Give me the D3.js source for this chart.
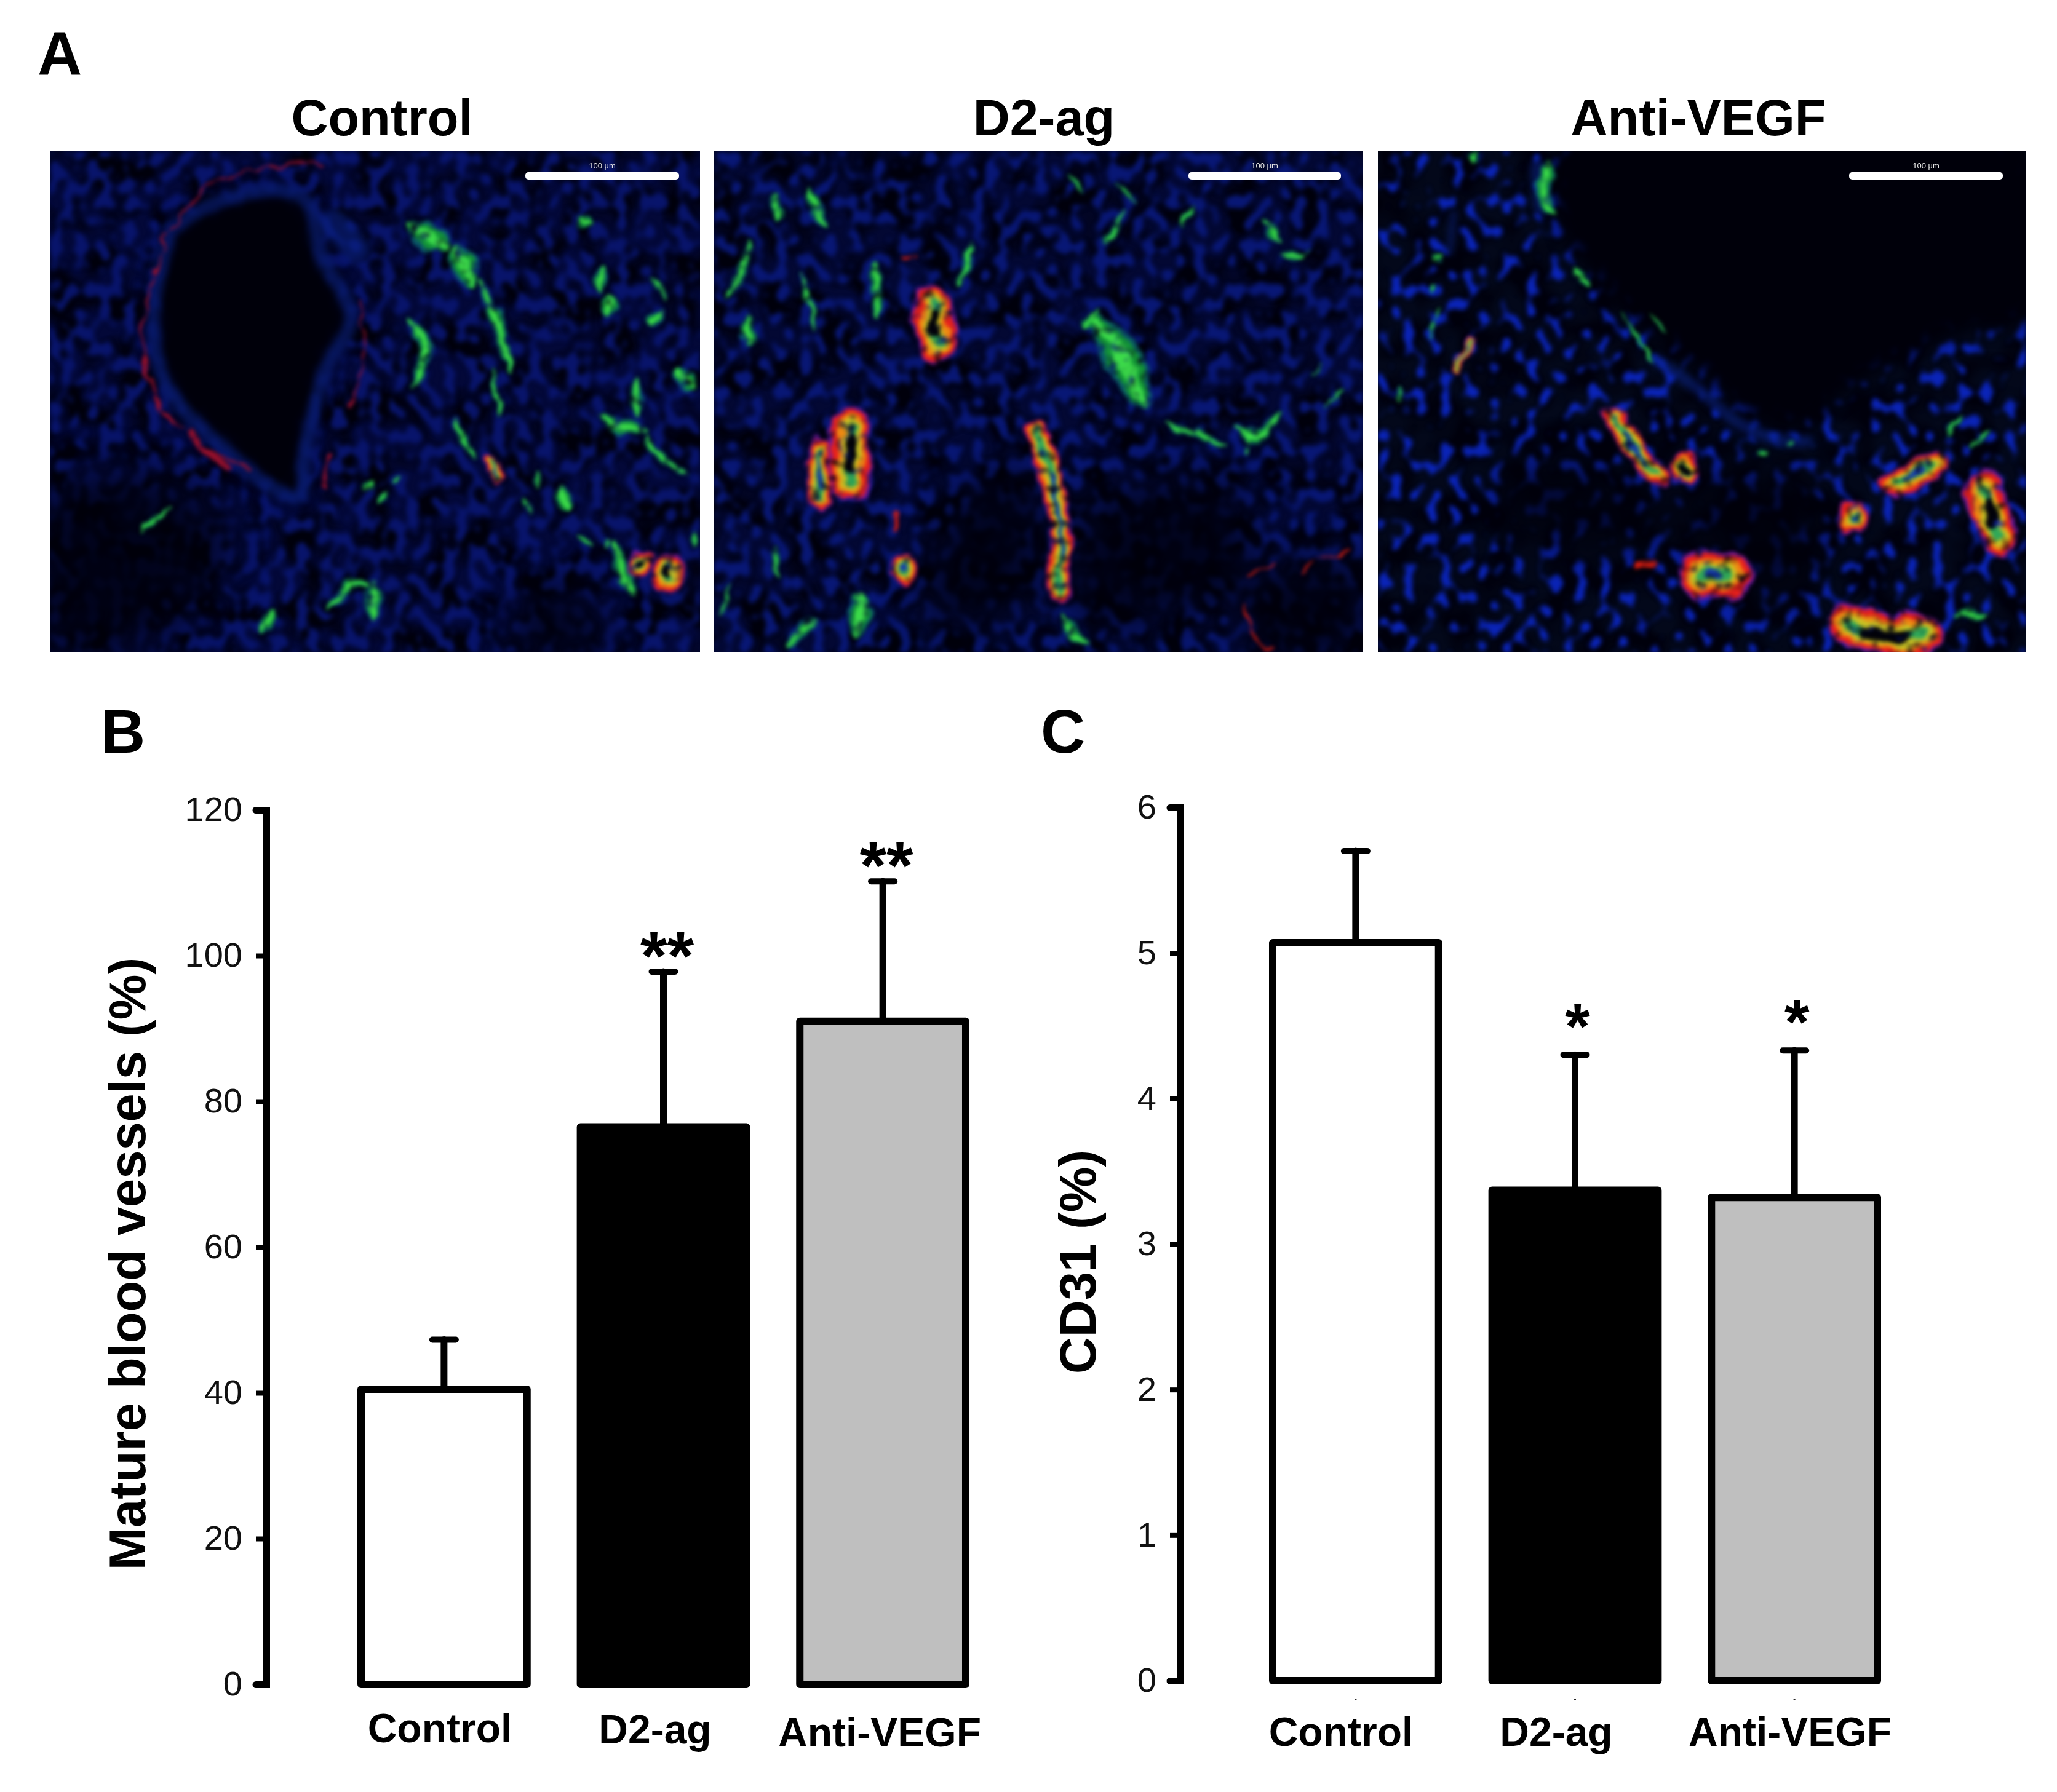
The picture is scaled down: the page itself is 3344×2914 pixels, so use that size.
<!DOCTYPE html>
<html lang="en">
<head>
<meta charset="UTF-8">
<title>Mature blood vessels and CD31</title>
<script src="https://d3js.org/d3.v7.min.js"></script>
<style>
  body { margin: 0; background: #fff; }
  text { font-family: "Liberation Sans", Arial, sans-serif; fill: #000; }
  filter { color-interpolation-filters: sRGB; }
</style>
</head>
<body>
<div id="fig"></div>
<script>
// chart values
var categories = ["Control", "D2-ag", "Anti-VEGF"];
var matureValues = [40.5, 76.5, 91];
var matureErrorTops = [47.3, 97.8, 110.2];
var matureStars = ["", "**", "**"];
var matureTicks = [0, 20, 40, 60, 80, 100, 120];
var cd31Values = [5.07, 3.37, 3.32];
var cd31ErrorTops = [5.7, 4.3, 4.33];
var cd31Stars = ["", "*", "*"];
var cd31Ticks = [0, 1, 2, 3, 4, 5, 6];
var barFills = ["#fff", "#000", "#bfbfbf"];

// micrograph features, traced in field units of each panel: [points, width]
var green1 = [
  [[[850,225],[900,270],[940,310]],52], [[[950,305],[985,360],[1000,420]],46], [[[1015,400],[1060,530],[1088,700]],22],
  [[[1052,670],[1062,825]],13], [[[855,525],[890,600],[890,650],[868,730]],22], [[[962,835],[1003,955]],16],
  [[[1305,350],[1300,445]],26], [[[1318,455],[1318,520]],30], [[[1415,395],[1455,462]],13], [[[1445,495],[1410,555]],26],
  [[[1385,715],[1385,835]],24], [[[1295,810],[1340,855],[1405,865]],28], [[[1405,880],[1440,950],[1508,1000]],16],
  [[[1208,1045],[1218,1110]],22], [[[1148,985],[1155,1045]],11], [[[1122,1070],[1132,1125]],11], [[[772,1022],[742,1048]],18],
  [[[800,1040],[785,1095]],16], [[[835,1010],[810,1028]],11], [[[668,1430],[710,1350],[775,1330]],24], [[[770,1335],[772,1455]],30],
  [[[545,1425],[508,1490]],18], [[[228,1185],[295,1105]],13], [[[1335,1210],[1350,1310],[1382,1385]],34],
  [[[1248,1188],[1278,1218]],11], [[[1305,1230],[1322,1205]],13], [[[1522,1175],[1520,1230]],12], [[[1245,208],[1275,245]],24],
  [[[1478,685],[1520,740]],38]
];
var green2 = [
  [[[895,510],[950,600],[1000,720],[1025,795]],56], [[[1075,850],[1150,880],[1222,918]],14], [[[1235,845],[1285,890],[1355,810]],28],
  [[[1270,880],[1270,938]],13], [[[608,285],[610,340],[585,415]],20], [[[385,340],[385,420],[385,525]],24], [[[212,385],[225,480],[248,555]],11],
  [[[215,120],[250,200],[268,245]],24], [[[150,140],[150,225]],18], [[[978,190],[950,250],[928,298]],14], [[[962,108],[1005,165]],11],
  [[[838,88],[878,138]],9], [[[1118,240],[1142,175]],14], [[[1305,230],[1355,285]],20], [[[1345,335],[1415,318]],12],
  [[[88,280],[60,400],[25,460]],16], [[[80,510],[80,620]],32], [[[350,1370],[338,1505]],38], [[[248,1445],[165,1530]],28],
  [[[36,1335],[12,1450]],9], [[[825,1435],[890,1530]],20], [[[1418,688],[1448,662]],6], [[[1492,745],[1458,795]],6],
  [[[145,1225],[152,1325]],11], [[[912,500],[882,565]],18]
];
var green3 = [
  [[[408,30],[395,130],[415,210]],30], [[[232,12],[225,42]],20], [[[150,330],[128,352]],18], [[[462,375],[508,420]],16],
  [[[128,422],[138,445]],8], [[[148,480],[118,585]],7], [[[578,505],[620,590],[652,672]],6], [[[638,505],[682,568]],4],
  [[[50,735],[50,775]],8], [[[1385,825],[1358,885]],9], [[[1455,865],[1415,925]],14], [[[1370,1438],[1435,1428]],20],
  [[[905,945],[925,925]],14], [[[968,915],[992,905]],9]
];
// vessels: [points, width, lumen]
var vessels1 = [
  [[[1395,1270],[1395,1290]],32,1], [[[1458,1285],[1458,1320]],44,1], [[[1045,960],[1060,1010]],20,0]
];
var vessels2 = [
  [[[520,480],[530,595]],58,1], [[[325,855],[325,1025]],58,1], [[[250,925],[250,1075]],36,0],
  [[[770,875],[800,1020],[825,1150],[820,1365]],34,0], [[[450,1275],[450,1305]],30,0]
];
var vessels3 = [
  [[[560,830],[610,920],[640,980],[670,1000]],32,0], [[[730,975],[730,995]],36,1], [[[1230,1030],[1320,975]],42,0],
  [[[1130,1130],[1130,1145]],42,0], [[[1440,1050],[1455,1120],[1475,1190]],56,1], [[[770,1310],[830,1310]],72,0],
  [[[1120,1465],[1210,1500],[1290,1490]],62,1], [[[225,590],[185,680]],15,0]
];
var redStreaks1 = [
  [[[240,640],[240,500],[300,250],[400,110],[520,65],[650,45]],3], [[[240,640],[270,780],[330,870],[420,950],[480,990]],5],
  [[[340,870],[430,990]],11], [[[740,470],[750,620],[720,800]],3], [[[670,950],[650,1040]],6]
];
var redStreaks2 = [
  [[[435,1130],[430,1170]],7], [[[1400,1310],[1440,1260],[1510,1240]],4], [[[1270,1310],[1330,1285]],3],
  [[[1265,1410],[1290,1500],[1330,1540]],3], [[[450,345],[480,335]],5]
];
var redStreaks3 = [
  [[[615,1282],[655,1278]],13]
];
var lumens1 = [
  [[300,250],[400,170],[560,130],[620,170],[650,330],[720,520],[660,680],[610,950],[600,1070],[520,1030],[430,930],[340,820],[280,700],[260,500]]
];
var shades1 = [
  [[20,1060],[200,1000],[420,1140],[380,1380],[200,1540],[20,1540]], [[1150,1350],[1300,1400],[1300,1540],[1100,1540]]
];
var lumens2 = [];
var shades2 = [
  [[1250,1340],[1540,1280],[1540,1550],[1300,1550]], [[600,1050],[760,1000],[740,1400],[500,1450]], [[880,1100],[1240,1050],[1240,1350],[880,1450]]
];
var lumens3 = [
  [[430,10],[1540,10],[1540,530],[1400,560],[1100,760],[1000,860],[860,800],[760,680],[640,560],[520,410],[430,220]]
];
var shades3 = [
  [[300,1000],[560,1000],[700,1180],[520,1230],[300,1150]], [[720,1050],[1040,1030],[1020,1350],[880,1400]]
];
var rims1 = [
  [[[300,250],[400,170],[560,130],[620,170],[650,330],[720,520],[660,680],[610,950],[600,1070],[520,1030],[430,930],[340,820],[280,700],[260,500],[300,250]],22],
  [[[680,230],[730,310]],44]
];
var rims2 = [];
var rims3 = [
  [[[660,650],[760,740],[850,840],[960,900],[1020,900]],18], [[[380,60],[390,180]],26], [[[180,200],[170,320]],9]
];

var panels = [
  { title: "Control", titleX: 621, left: 81, right: 1138, domX: [18, 1532], seed: 3, blue: [0.03, 0.08, 0.42], cut: 3.9, haze: 0.22, green: green1, vessels: vessels1, reds: redStreaks1, lumens: lumens1, shades: shades1, rims: rims1, barX: [854, 1104] },
  { title: "D2-ag", titleX: 1697, left: 1161, right: 2216, domX: [0, 1545], seed: 8, blue: [0.03, 0.09, 0.46], cut: 4.0, haze: 0.2, green: green2, vessels: vessels2, reds: redStreaks2, lumens: lumens2, shades: shades2, rims: rims2, barX: [1932, 2180] },
  { title: "Anti-VEGF", titleX: 2761, left: 2240, right: 3294, domX: [0, 1540], seed: 14, blue: [0.04, 0.14, 0.72], cut: 4.35, haze: 0.1, green: green3, vessels: vessels3, reds: redStreaks3, lumens: lumens3, shades: shades3, rims: rims3, barX: [3006, 3256] }
];

var fieldTop = 246, fieldBottom = 1061;

var svg = d3.select("#fig").append("svg")
  .attr("width", 3344).attr("height", 2914)
  .style("display", "block");
var defs = svg.append("defs");

// rough, mottled, soft edge used on the stained marks
var soft = defs.append("filter").attr("id", "soft")
  .attr("filterUnits", "userSpaceOnUse").attr("x", -20).attr("y", -20).attr("width", 1100).attr("height", 860);
soft.append("feTurbulence").attr("type", "fractalNoise").attr("baseFrequency", 0.03).attr("numOctaves", 2).attr("seed", 5).attr("result", "n");
soft.append("feDisplacementMap").attr("in", "SourceGraphic").attr("in2", "n").attr("scale", 24)
  .attr("xChannelSelector", "R").attr("yChannelSelector", "G").attr("result", "d");
soft.append("feTurbulence").attr("type", "fractalNoise").attr("baseFrequency", 0.07).attr("numOctaves", 2).attr("seed", 11);
soft.append("feColorMatrix").attr("values", "0 0 0 0 1 0 0 0 0 1 0 0 0 0 1 3 0 0 0 -0.55").attr("result", "m");
soft.append("feComposite").attr("in", "d").attr("in2", "m").attr("operator", "in");
soft.append("feGaussianBlur").attr("stdDeviation", 3.2);

function blurFilter(id, dev) {
  defs.append("filter").attr("id", id)
    .attr("filterUnits", "userSpaceOnUse").attr("x", -60).attr("y", -60).attr("width", 1180).attr("height", 940)
    .append("feGaussianBlur").attr("stdDeviation", dev);
}
blurFilter("blur6", 6);
blurFilter("blur14", 14);
blurFilter("blur35", 35);

// leaf shaped outline along a polyline, thickest mid-way
function leaf(pts, w, fx, fy) {
  var xy = pts.map(function (d) { return [fx(d[0]), fy(d[1])]; });
  var upper = [], lower = [];
  xy.forEach(function (p, i) {
    var a = xy[Math.max(i - 1, 0)], b = xy[Math.min(i + 1, xy.length - 1)];
    var dx = b[0] - a[0], dy = b[1] - a[1], n = Math.hypot(dx, dy) || 1;
    var half = w / 2 * (xy.length > 2 && i > 0 && i < xy.length - 1 ? 1 : 0.12);
    upper.push([p[0] - dy / n * half, p[1] + dx / n * half]);
    lower.unshift([p[0] + dy / n * half, p[1] - dx / n * half]);
    if (i < xy.length - 1 && xy.length === 2) {
      var mx = (p[0] + xy[i + 1][0]) / 2, my = (p[1] + xy[i + 1][1]) / 2;
      upper.push([mx - dy / n * w / 2, my + dx / n * w / 2]);
      lower.unshift([mx + dy / n * w / 2, my - dx / n * w / 2]);
    }
  });
  return d3.line().curve(d3.curveCatmullRomClosed)(upper.concat(lower));
}

panels.forEach(function (p, i) {
  var w = p.right - p.left, h = fieldBottom - fieldTop;
  var fx = d3.scaleLinear().domain(p.domX).range([0, w]);
  var fy = d3.scaleLinear().domain([10, 1550]).range([0, h]);
  var path = d3.line().x(function (d) { return fx(d[0]); }).y(function (d) { return fy(d[1]); }).curve(d3.curveCatmullRom);
  var poly = d3.line().x(function (d) { return fx(d[0]); }).y(function (d) { return fy(d[1]); }).curve(d3.curveCatmullRomClosed);

  defs.append("clipPath").attr("id", "clip" + i).append("rect").attr("width", w).attr("height", h);

  // cell nuclei texture over a dim blue haze
  var nuc = defs.append("filter").attr("id", "nuclei" + i)
    .attr("x", 0).attr("y", 0).attr("width", "100%").attr("height", "100%");
  nuc.append("feTurbulence").attr("type", "fractalNoise").attr("baseFrequency", "0.05 0.042").attr("numOctaves", 1).attr("seed", p.seed);
  nuc.append("feColorMatrix").attr("values",
    "0 0 0 0 " + p.blue[0] + " 0 0 0 0 " + p.blue[1] + " 0 0 0 0 " + p.blue[2] + " 8 0 0 0 -" + p.cut);
  nuc.append("feGaussianBlur").attr("stdDeviation", 3.5);

  var hz = defs.append("filter").attr("id", "haze" + i)
    .attr("x", 0).attr("y", 0).attr("width", "100%").attr("height", "100%");
  hz.append("feTurbulence").attr("type", "fractalNoise").attr("baseFrequency", 0.018).attr("numOctaves", 2).attr("seed", p.seed + 20);
  hz.append("feColorMatrix").attr("values",
    "0 0 0 0 0.01 0 0 0 0 0.03 0 0 0 0 " + p.haze + " 3 0 0 0 -0.9");

  var g = svg.append("g").attr("transform", "translate(" + p.left + "," + fieldTop + ")");
  var f = g.append("g").attr("clip-path", "url(#clip" + i + ")");
  f.append("rect").attr("width", w).attr("height", h).attr("fill", "#00000c");
  f.append("rect").attr("width", w).attr("height", h).attr("filter", "url(#haze" + i + ")");
  f.append("rect").attr("width", w).attr("height", h).attr("filter", "url(#nuclei" + i + ")");

  f.append("g").attr("filter", "url(#blur35)").attr("opacity", 0.8)
    .selectAll("path").data(p.shades).enter().append("path")
    .attr("d", poly).attr("fill", "#00000a");
  f.append("g").attr("filter", "url(#blur14)")
    .selectAll("path").data(p.lumens).enter().append("path")
    .attr("d", poly).attr("fill", "#00000a");

  f.append("g").attr("filter", "url(#blur6)")
    .attr("fill", "none").attr("stroke", "#0b2488").attr("stroke-linecap", "round").attr("opacity", 0.55)
    .selectAll("path").data(p.rims).enter().append("path")
    .attr("d", function (d) { return path(d[0]); })
    .attr("stroke-width", function (d) { return d[1]; });

  var marks = f.append("g").attr("filter", "url(#soft)")
    .attr("fill", "none").attr("stroke-linecap", "round").attr("stroke-linejoin", "round");

  marks.selectAll("path.red").data(p.reds).enter().append("path").attr("class", "red")
    .attr("d", function (d) { return path(d[0]); })
    .attr("stroke", i === 0 ? "#96102c" : "#d81c10").attr("stroke-width", function (d) { return d[1]; });

  // green cells: teal halo, green body, bright core
  [[1.0, "#0d6f74", 0.8], [0.72, "#149a34", 0.95], [0.34, "#3fe24c", 0.95]].forEach(function (layer) {
    marks.append("g").selectAll("path").data(p.green).enter().append("path")
      .attr("d", function (d) { return leaf(d[0], d[1] * layer[0], fx, fy); })
      .attr("fill", layer[1]).attr("opacity", layer[2]);
  });

  // vessels: purple halo, red wall, orange and yellow inner wall, green lining, lumen
  [[1.14, "#6a18a0"], [1, "#e8201c"], [0.74, "#ee8a12"], [0.5, "#c8c424"], [0.28, "#30a858"]].forEach(function (layer) {
    marks.append("g").selectAll("path").data(p.vessels).enter().append("path")
      .attr("d", function (d) { return path(d[0]); })
      .attr("stroke", layer[1])
      .attr("stroke-width", function (d) { return d[1] * layer[0]; });
  });
  // the lumen only shows along the middle of each vessel
  marks.append("g").selectAll("path").data(p.vessels).enter().append("path")
    .attr("d", function (d) { return path(d[0]); })
    .attr("pathLength", 1).attr("stroke-dasharray", "0.5 0.5").attr("stroke-dashoffset", -0.25)
    .attr("stroke", function (d) { return d[2] ? "#020208" : "#1a3ea8"; })
    .attr("stroke-width", function (d) { return d[1] * (d[2] ? 0.3 : 0.16); });

  // scale bar and its tiny label
  g.append("rect")
    .attr("x", p.barX[0] - p.left).attr("y", 34)
    .attr("width", p.barX[1] - p.barX[0]).attr("height", 12).attr("rx", 5)
    .attr("fill", "#fff");
  g.append("text")
    .attr("x", (p.barX[0] + p.barX[1]) / 2 - p.left).attr("y", 28)
    .attr("text-anchor", "middle").attr("font-size", 13)
    .style("fill", "#e8e8e8").text("100 µm");

  svg.append("text").attr("x", p.titleX).attr("y", 220)
    .attr("text-anchor", "middle").attr("font-size", 83).attr("font-weight", 700).text(p.title);
});

function letter(t, x, y) {
  svg.append("text").attr("x", x).attr("y", y).attr("font-size", 100).attr("font-weight", 700).text(t);
}
letter("A", 61, 122);
letter("B", 164, 1224);
letter("C", 1692, 1224);

function drawBars(o) {
  var x = d3.scaleBand().domain(categories).range(o.bandX).paddingInner(0.21);
  var y = d3.scaleLinear().domain(o.domain).range(o.rangeY);
  var g = svg.append("g");

  var axis = g.append("g")
    .attr("transform", "translate(" + o.axisX + ",0)")
    .call(d3.axisLeft(y).tickValues(o.ticks).tickFormat(d3.format("d")).tickSizeOuter(0).tickSize(17).tickPadding(22));
  axis.select(".domain").attr("stroke", "#000").attr("stroke-width", 11).attr("stroke-linecap", "round");
  axis.selectAll(".tick line").attr("stroke", "#000").attr("stroke-width", 8);
  axis.selectAll(".tick text").attr("font-size", 56).attr("font-family", "Liberation Sans").style("fill", "#111");

  g.append("text")
    .attr("transform", "translate(" + o.titleX + "," + o.titleY + ") rotate(-90)")
    .attr("text-anchor", "middle").attr("font-size", 83).attr("font-weight", 700).text(o.title);

  var rows = categories.map(function (c, i) {
    return { cat: c, value: o.values[i], top: o.tops[i], star: o.stars[i], fill: barFills[i], labelX: o.labelX[i], labelY: o.labelY[i] };
  });

  // error bars go first so the bar outline covers their foot
  var err = g.selectAll("g.err").data(rows).enter().append("g").attr("class", "err")
    .attr("stroke", "#000").attr("stroke-linecap", "round");
  err.append("line")
    .attr("x1", function (d) { return x(d.cat) + x.bandwidth() / 2; })
    .attr("x2", function (d) { return x(d.cat) + x.bandwidth() / 2; })
    .attr("y1", function (d) { return y(d.top); })
    .attr("y2", function (d) { return y(d.value); })
    .attr("stroke-width", 11);
  err.append("line")
    .attr("x1", function (d) { return x(d.cat) + x.bandwidth() / 2 - 19; })
    .attr("x2", function (d) { return x(d.cat) + x.bandwidth() / 2 + 19; })
    .attr("y1", function (d) { return y(d.top); })
    .attr("y2", function (d) { return y(d.top); })
    .attr("stroke-width", 10);

  g.selectAll("rect.bar").data(rows).enter().append("rect").attr("class", "bar")
    .attr("x", function (d) { return x(d.cat) + 6; })
    .attr("y", function (d) { return y(d.value); })
    .attr("width", x.bandwidth() - 12)
    .attr("height", function (d) { return y(0) - y(d.value); })
    .attr("fill", function (d) { return d.fill; })
    .attr("stroke", "#000").attr("stroke-width", 12).attr("stroke-linejoin", "round");

  g.selectAll("text.star").data(rows).enter().append("text").attr("class", "star")
    .attr("x", function (d) { return x(d.cat) + x.bandwidth() / 2 + o.starDx; })
    .attr("y", function (d) { return y(d.top) + o.starDy; })
    .attr("text-anchor", "middle").attr("font-size", o.starSize).attr("font-weight", 700)
    .text(function (d) { return d.star; });

  g.selectAll("text.cat").data(rows).enter().append("text").attr("class", "cat")
    .attr("x", function (d) { return d.labelX; })
    .attr("y", function (d) { return d.labelY; })
    .attr("text-anchor", "middle").attr("font-size", 66).attr("font-weight", 700)
    .text(function (d) { return d.cat; });

  if (o.dots) {
    g.selectAll("rect.dot").data(rows).enter().append("rect").attr("class", "dot")
      .attr("x", function (d) { return x(d.cat) + x.bandwidth() / 2 - 1.5; })
      .attr("y", o.dots).attr("width", 3).attr("height", 3).attr("fill", "#222");
  }
}

drawBars({
  values: matureValues, tops: matureErrorTops, stars: matureStars, ticks: matureTicks,
  domain: [0, 120], rangeY: [2739, 1317], bandX: [581, 1576], axisX: 433,
  title: "Mature blood vessels (%)", titleX: 236, titleY: 2055,
  labelX: [715, 1065, 1430], labelY: [2833, 2835, 2840],
  starDx: 6, starDy: 13, starSize: 112
});
drawBars({
  values: cd31Values, tops: cd31ErrorTops, stars: cd31Stars, ticks: cd31Ticks,
  domain: [0, 6], rangeY: [2733, 1313], bandX: [2063, 3058], axisX: 1919,
  title: "CD31 (%)", titleX: 1781, titleY: 2052,
  labelX: [2180, 2530, 2910], labelY: [2839, 2839, 2839],
  starDx: 4, starDy: -10, starSize: 104, dots: 2762
});
</script>
</body>
</html>
